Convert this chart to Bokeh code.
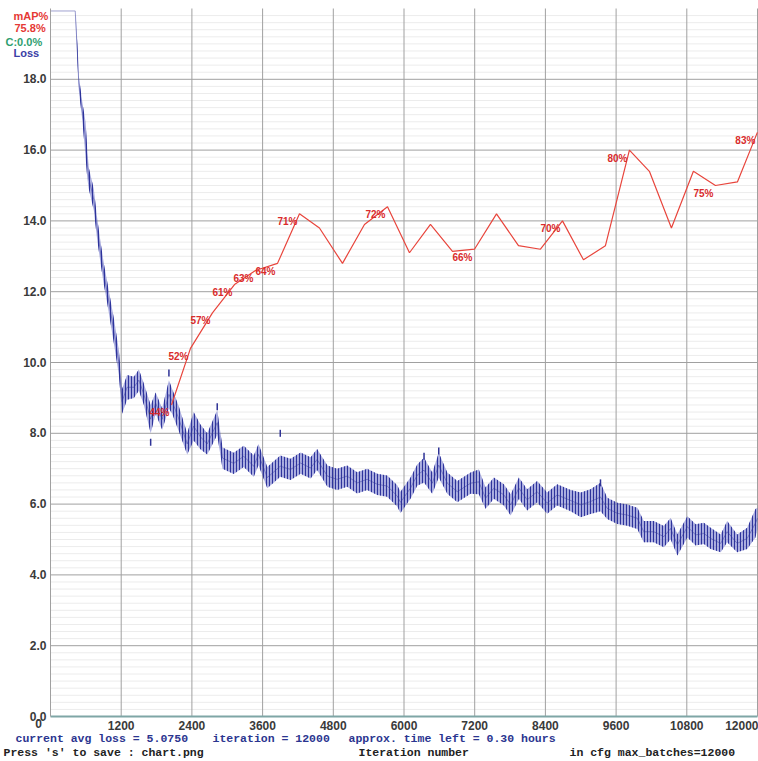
import numpy as np
from bokeh.plotting import figure
from bokeh.models import ColumnDataSource, Range1d, FixedTicker
from bokeh.embed import file_html
from bokeh.resources import INLINE
from bokeh.core.properties import value

# ---------------- data ----------------
x_ticks = [0, 1200, 2400, 3600, 4800, 6000, 7200, 8400, 9600, 10800, 12000]
x_tick_labels = ["0", "1200", "2400", "3600", "4800", "6000", "7200", "8400", "9600", "10800", "12000"]
y_ticks = [0, 2, 4, 6, 8, 10, 12, 14, 16, 18]
y_tick_labels = ["0.0", "2.0", "4.0", "6.0", "8.0", "10.0", "12.0", "14.0", "16.0", "18.0"]

loss_iter = [0, 420, 430, 455, 480, 540, 595, 625, 650, 735, 790, 850, 905, 960,
             1075, 1160, 1215, 1300, 1415, 1500, 1585, 1700, 1785, 1895, 2010, 2065,
             2180, 2320, 2430, 2545, 2660, 2830, 2920, 3110, 3280, 3450, 3530, 3680,
             3900, 4075, 4245, 4415, 4525, 4700, 4865, 5035, 5205, 5375, 5545, 5715,
             5885, 5940, 6110, 6225, 6340, 6480, 6590, 6735, 6905, 7130, 7270, 7385,
             7525, 7695, 7810, 7950, 8090, 8260, 8430, 8600, 8830, 9000, 9165, 9335,
             9450, 9620, 9790, 9960, 10070, 10240, 10410, 10525, 10640, 10810, 10950,
             11090, 11205, 11375, 11485, 11655, 11825, 11965, 12000]
loss_mid = [19.93, 19.93, 19.6, 18.8, 17.9, 17.1, 16.3, 15.6, 15.2, 14.6, 13.8, 13.1, 12.5, 12.0,
            10.9, 10.0, 8.9, 9.3, 9.3, 9.5, 9.1, 8.4, 8.85, 8.4, 9.1, 8.9,
            8.4, 7.7, 8.2, 7.9, 7.7, 8.3, 7.3, 7.15, 7.35, 7.07, 7.4, 6.75,
            7.07, 6.98, 7.16, 7.02, 7.26, 6.79, 6.70, 6.79, 6.60, 6.70, 6.56, 6.51,
            6.23, 6.05, 6.45, 6.82, 6.96, 6.59, 7.1, 6.59, 6.35, 6.59, 6.63, 6.17,
            6.45, 6.26, 5.98, 6.45, 6.12, 6.35, 6.03, 6.26, 6.1, 5.98, 6.07, 6.2,
            5.88, 5.74, 5.69, 5.6, 5.22, 5.22, 5.08, 5.31, 4.85, 5.36, 5.13,
            5.17, 5.03, 4.89, 5.22, 4.89, 5.03, 5.46, 5.6]
loss_spread = [0, 0, 0.15, 0.2, 0.2, 0.25, 0.5, 0.4, 0.3, 0.3, 0.3, 0.3, 0.3, 0.3,
               0.35, 0.35, 0.35, 0.35, 0.3, 0.3, 0.3, 0.4, 0.3, 0.3, 0.4, 0.35,
               0.35, 0.3, 0.4, 0.35, 0.3, 0.35, 0.3, 0.3, 0.3, 0.3, 0.3, 0.3,
               0.3, 0.3, 0.3, 0.3, 0.3, 0.3, 0.3, 0.3, 0.3, 0.3, 0.3, 0.3,
               0.3, 0.3, 0.3, 0.3, 0.35, 0.3, 0.35, 0.3, 0.3, 0.3, 0.35, 0.3,
               0.3, 0.3, 0.3, 0.3, 0.3, 0.3, 0.3, 0.3, 0.3, 0.35, 0.35, 0.4,
               0.3, 0.3, 0.3, 0.3, 0.3, 0.3, 0.3, 0.3, 0.3, 0.3, 0.3,
               0.3, 0.3, 0.25, 0.3, 0.25, 0.3, 0.4, 0.3]
spike_iter = [1700, 2010, 2830, 3900, 6340, 6590, 9335]
spike_val = [7.75, 9.7, 8.75, 8.0, 7.35, 7.5, 6.6]

map_iter = [2053, 2376, 2749, 3123, 3479, 3853, 4226, 4565, 4956, 5329, 5720, 6093,
            6449, 6823, 7196, 7570, 7943, 8316, 8690, 9046, 9419, 9826, 10165, 10539,
            10912, 11286, 11659, 11998]
map_pct = [44, 52, 57, 61, 63, 64, 71, 69, 64, 69.5, 72, 65.5,
           69.5, 65.7, 66, 71, 66.5, 66, 70, 64.5, 66.5, 80, 77, 69,
           77, 75, 75.5, 82.5]
map_text = ["44%", "52%", "57%", "61%", "63%", "64%", "71%", "", "", "", "72%", "",
            "", "", "66%", "", "", "", "70%", "", "", "80%", "", "",
            "", "75%", "", "83%"]

legend_texts = ["mAP%", "75.8%", "C:0.0%", "Loss"]
legend_colors = ["#e53935", "#e53935", "#2e9e70", "#3a40a6"]

# ---------------- layout helpers (window pixels -> data units) ----------------
W, H = 758, 760
X_MAX, Y_MAX = 12000, 20
FX0, FX1, FY0, FY1 = 50, 757, 8, 716      # plot area in the window


def X(wx):
    return (wx - FX0) * X_MAX / (FX1 - FX0)


def Y(wy):
    return (FY1 - wy) * Y_MAX / (FY1 - FY0)


p = figure(width=W, height=H, x_range=Range1d(X(0), X(W)), y_range=Range1d(Y(H), Y(0)),
           output_backend="svg", toolbar_location=None, title=None,
           min_border_left=0, min_border_right=0, min_border_top=0, min_border_bottom=0,
           background_fill_color="white", border_fill_color="white")
p.extra_y_ranges = {"map": Range1d(Y(H) * 5, Y(0) * 5)}
p.outline_line_color = None
p.xgrid.visible = False
p.ygrid.visible = False

# axes drawn at the data origin
p.xaxis.fixed_location = 0
p.yaxis.fixed_location = 0
p.xaxis.bounds = (0, X_MAX)
p.yaxis.bounds = (0, Y_MAX)
p.xaxis.ticker = FixedTicker(ticks=x_ticks)
p.yaxis.ticker = FixedTicker(ticks=y_ticks)
ov = dict(zip(x_ticks, x_tick_labels))
ov[x_ticks[0]] = ""
p.xaxis.major_label_overrides = ov
# labels are left-aligned in the original: pad the short ones (digit = 2 spaces wide)
longest = max(len(s) for s in y_tick_labels)
p.yaxis.major_label_overrides = {t: "\u00a0\u00a0" * (longest - len(s)) + s
                                 for t, s in zip(y_ticks, y_tick_labels)}
for ax in (p.xaxis, p.yaxis):
    ax.major_tick_line_color = None
    ax.minor_tick_line_color = None
    ax.major_label_text_font = "Liberation Sans"
    ax.major_label_text_font_style = "bold"
    ax.major_label_text_font_size = "12px"
    ax.major_label_text_color = "#3a3a3a"
p.xaxis.major_label_standoff = -2
p.yaxis.major_label_standoff = -2
p.xaxis.axis_line_color = "#7fa6a6"
p.xaxis.axis_line_width = 2
p.yaxis.axis_line_color = "#a0a0a0"

# grid (restricted to the plot area)
minor = [round(v, 1) for v in np.arange(0.2, Y_MAX, 0.2) if abs(v / 2 - round(v / 2)) > 1e-6]
p.segment(x0=0, x1=X_MAX, y0=minor, y1=minor, line_color="#ececec", line_width=1)
p.segment(x0=0, x1=X_MAX, y0=y_ticks[1:], y1=y_ticks[1:], line_color="#a0a0a0", line_width=1)
p.segment(x0=x_ticks[1:], x1=x_ticks[1:], y0=0, y1=Y_MAX, line_color="#a0a0a0", line_width=1)

# ---------------- loss ----------------
lo = [m - s for m, s in zip(loss_mid, loss_spread)]
hi = [m + s for m, s in zip(loss_mid, loss_spread)]
src = ColumnDataSource(dict(it=loss_iter, mid=loss_mid, lo=lo, hi=hi))
p.varea(x="it", y1="lo", y2="hi", source=src, fill_color="#4a50bc", fill_alpha=0.45,
        hatch_pattern="vertical_line", hatch_color="#2e349c", hatch_scale=3, hatch_weight=1.1)
p.line(x="it", y="mid", source=src, line_color="#2e3296", line_width=1.0, line_alpha=0.45)
p.scatter(spike_iter, spike_val, marker="dash", angle=np.pi / 2, size=7,
          line_color="#2e3296", line_width=1.5)

# ---------------- mAP ----------------
p.line(map_iter, map_pct, y_range_name="map", line_color="#e8453c", line_width=1.2)
lab = [(i, v, t) for i, v, t in zip(map_iter, map_pct, map_text) if t]
lsrc = ColumnDataSource(dict(it=[a[0] for a in lab], v=[a[1] for a in lab], t=[a[2] for a in lab]))
p.text(x="it", y="v", text="t", source=lsrc, y_range_name="map",
       text_font=value("Liberation Sans"), text_font_style="bold", text_font_size="10px",
       text_color="#d92b2b", text_align="center", text_baseline="middle",
       x_offset=-12, y_offset=8)


# ---------------- texts ----------------
def add_text(wx, wy, txt, color, size="11.5px", font="Liberation Mono", align="left"):
    p.text(x=[X(wx)], y=[Y(wy)], text=[txt], text_color=color, text_font=value(font),
           text_font_size=size, text_font_style="bold",
           text_baseline="middle", text_align=align)


add_text(38, 723, x_tick_labels[0], "#3a3a3a", size="12px", font="Liberation Sans", align="center")
add_text(15, 738, "current avg loss = 5.0750", "#2b3590")
add_text(212, 738, "iteration = 12000", "#2b3590")
add_text(348, 738, "approx. time left = 0.30 hours", "#2b3590")
add_text(3, 752, "Press 's' to save : chart.png", "#222222")
add_text(358, 752, "Iteration number", "#222222")
add_text(569, 752, "in cfg max_batches=12000", "#222222")

for (wx, wy), t, c in zip([(13, 15), (14, 27), (5, 41), (13, 52)], legend_texts, legend_colors):
    add_text(wx, wy, t, c, size="11px", font="Liberation Sans")

open("out.html", "w").write(file_html(p, INLINE))
